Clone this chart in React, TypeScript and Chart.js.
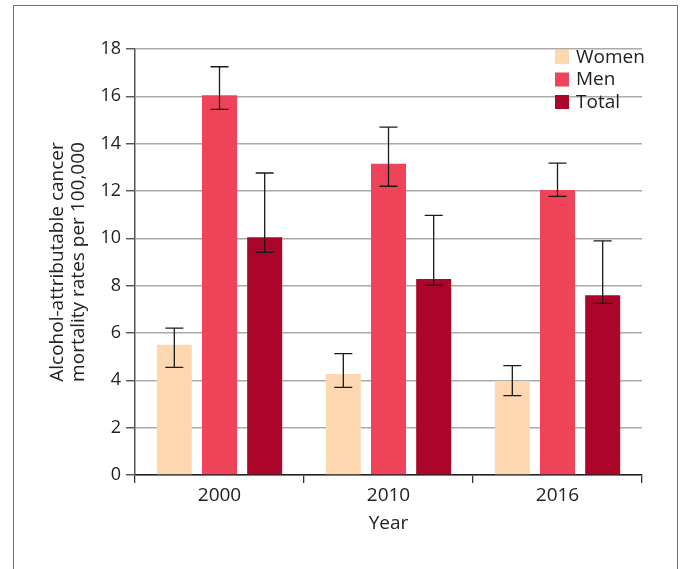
import React, { useEffect, useRef } from "react";
import { Chart, registerables } from "chart.js";

Chart.register(...registerables);

const categories = ["2000", "2010", "2016"];
const seriesLabels = ["Women", "Men", "Total"];
const seriesColors = ["#FDD7AF", "#EE4358", "#AB0529"];

const women = [5.5, 4.27, 3.97];
const womenLow = [4.55, 3.7, 3.35];
const womenHigh = [6.21, 5.13, 4.62];

const men = [16.05, 13.15, 12.04];
const menLow = [15.45, 12.2, 11.77];
const menHigh = [17.25, 14.7, 13.18];

const total = [10.05, 8.28, 7.6];
const totalLow = [9.41, 8.02, 7.25];
const totalHigh = [12.76, 10.97, 9.89];

const yTickValues = [0, 2, 4, 6, 8, 10, 12, 14, 16, 18];

const FONT = "'Open Sans', 'Noto Sans', sans-serif";
const TEXT = "#222222";

const lows = [womenLow, menLow, totalLow];
const highs = [womenHigh, menHigh, totalHigh];

const errorBarPlugin = {
  id: "errorBars",
  afterDatasetsDraw(chart: any) {
    const ctx = chart.ctx;
    const yScale = chart.scales.y;
    ctx.save();
    ctx.strokeStyle = "#1a1a1a";
    ctx.lineWidth = 1.3;
    chart.data.datasets.forEach((ds: any, i: number) => {
      const meta = chart.getDatasetMeta(i);
      meta.data.forEach((bar: any, j: number) => {
        const x = bar.x;
        const yl = yScale.getPixelForValue(lows[i][j]);
        const yh = yScale.getPixelForValue(highs[i][j]);
        const half = 9;
        ctx.beginPath();
        ctx.moveTo(x, yl);
        ctx.lineTo(x, yh);
        ctx.moveTo(x - half, yl);
        ctx.lineTo(x + half, yl);
        ctx.moveTo(x - half, yh);
        ctx.lineTo(x + half, yh);
        ctx.stroke();
      });
    });
    ctx.restore();
  },
};

const legendPlugin = {
  id: "customLegend",
  afterDraw(chart: any) {
    const ctx = chart.ctx;
    ctx.save();
    const x0 = 555;
    const y0 = 50;
    const step = 22.5;
    ctx.font = `19px ${FONT}`;
    ctx.textBaseline = "middle";
    ctx.textAlign = "left";
    chart.data.datasets.forEach((ds: any, i: number) => {
      const y = y0 + i * step;
      ctx.fillStyle = ds.backgroundColor;
      ctx.fillRect(x0, y, 14, 14);
      ctx.fillStyle = TEXT;
      ctx.fillText(ds.label, x0 + 21, y + 7.5);
    });
    ctx.restore();
  },
};

export default function App() {
  const ref = useRef<HTMLCanvasElement | null>(null);

  useEffect(() => {
    if (!ref.current) return;
    const values = [women, men, total];
    const chart = new Chart(ref.current, {
      type: "bar",
      data: {
        labels: categories,
        datasets: seriesLabels.map((label, i) => ({
          label,
          data: values[i],
          backgroundColor: seriesColors[i],
          borderWidth: 0,
          categoryPercentage: 0.802,
          barPercentage: 0.775,
        })),
      },
      options: {
        animation: false,
        responsive: false,
        devicePixelRatio: 1,
        layout: { padding: { left: 0, top: 49, right: 41, bottom: 0 } },
        plugins: {
          legend: { display: false },
          tooltip: { enabled: false },
        },
        scales: {
          x: {
            grid: {
              offset: true,
              drawOnChartArea: false,
              drawTicks: true,
              tickLength: 8,
              color: "#333333",
              lineWidth: 1.3,
            },
            border: { display: true, color: "#222222", width: 1.5 },
            ticks: {
              color: TEXT,
              font: { family: FONT, size: 19 },
              padding: 1,
            },
            title: {
              display: true,
              text: "Year",
              color: TEXT,
              font: { family: FONT, size: 19 },
              padding: { top: 0, bottom: 34 },
            },
            afterFit(scale: any) {
              scale.height = 94;
            },
          },
          y: {
            min: 0,
            max: 18,
            afterBuildTicks(scale: any) {
              scale.ticks = yTickValues.map((v) => ({ value: v }));
            },
            grid: {
              color: "#aaaaaa",
              lineWidth: 1.5,
              tickLength: 9,
              tickColor: "#444444",
              tickWidth: 1.3,
            },
            border: { display: true, color: "#555555", width: 1.5 },
            ticks: {
              color: TEXT,
              font: { family: FONT, size: 18 },
              padding: 5,
            },
            title: {
              display: true,
              text: ["Alcohol-attributable cancer", "mortality rates per 100,000"],
              color: TEXT,
              font: { family: FONT, size: 19, lineHeight: 1.1 },
              padding: { top: 47.5, bottom: 0 },
            },
            afterFit(scale: any) {
              scale.width = 135;
            },
          },
        },
      },
      plugins: [errorBarPlugin, legendPlugin],
    });
    return () => chart.destroy();
  }, []);

  return (
    <div
      style={{
        position: "fixed",
        left: 0,
        top: 0,
        width: 683,
        height: 569,
        overflow: "hidden",
        background: "#ffffff",
      }}
    >
      <canvas
        ref={ref}
        width={683}
        height={569}
        style={{ position: "absolute", left: 0, top: 0, width: 683, height: 569 }}
      />
      <div
        style={{
          position: "absolute",
          left: 13,
          top: 5,
          width: 665,
          height: 620,
          boxSizing: "border-box",
          border: "1.5px solid #707070",
          pointerEvents: "none",
        }}
      />
    </div>
  );
}
